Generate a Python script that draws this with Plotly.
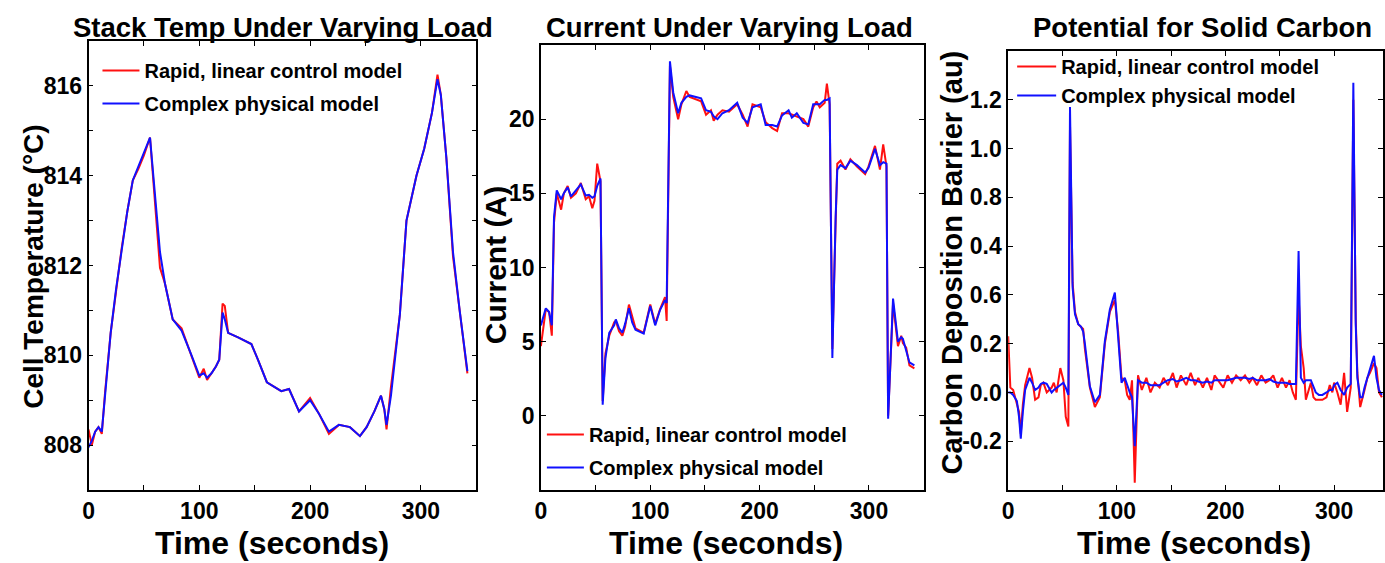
import plotly.graph_objects as go

# ---------- data ----------
# Stack temperature (deg C)
temp_time = [0, 3, 6, 9, 12, 15, 20, 25, 30, 35, 40, 45, 50, 55.5, 64.5, 69, 76, 84, 93, 100,
             104, 107, 111, 115, 118, 121, 123, 126, 135, 147, 153, 161, 174, 181, 190, 200,
             208, 217, 226, 236, 245, 251, 258, 264, 267, 269, 273, 281, 287, 296, 303, 310,
             315, 318, 323, 329, 335, 342]
temp_complex = [807.95, 808.1, 808.3, 808.4, 808.3, 809.2, 810.5, 811.5, 812.4, 813.2, 813.9,
                814.2, 814.5, 814.85, 812.3, 811.6, 810.8, 810.55, 810.0, 809.55, 809.6, 809.5,
                809.6, 809.75, 809.9, 810.95, 810.8, 810.5, 810.4, 810.25, 809.9, 809.4, 809.2,
                809.25, 808.75, 809.0, 808.7, 808.3, 808.45, 808.4, 808.2, 808.4, 808.75, 809.1,
                808.8, 808.45, 809.1, 810.9, 813.0, 814.0, 814.6, 815.4, 816.15, 815.8, 814.4,
                812.3, 811.0, 809.65]
temp_linear = [808.35, 808.0, 808.3, 808.4, 808.25, 809.2, 810.5, 811.5, 812.4, 813.2, 813.9,
               814.15, 814.45, 814.85, 811.95, 811.6, 810.8, 810.6, 810.0, 809.5, 809.7, 809.45,
               809.6, 809.75, 809.9, 811.15, 811.1, 810.5, 810.4, 810.25, 809.9, 809.4, 809.2,
               809.25, 808.75, 809.05, 808.7, 808.25, 808.45, 808.4, 808.2, 808.4, 808.75,
               809.1, 808.8, 808.35, 809.3, 810.9, 813.0, 814.0, 814.6, 815.4, 816.25, 815.8,
               814.4, 812.2, 811.0, 809.6]

# Current (A)
cur_time = [0, 2, 4.5, 7.5, 10, 12, 14.5, 18.5, 21, 24.5, 27.5, 32, 36.5, 41, 44, 47, 49, 51.5,
            54.5, 56.5, 59, 62.5, 67, 68.5, 71.5, 74.5, 77, 80.5, 83.5, 86.5, 94, 100, 104.5,
            109, 113.5, 115, 118, 121, 125.5, 128.5, 133, 136, 146.5, 151, 155.5, 158, 161.5,
            166, 172, 179.5, 184.5, 189, 193.5, 201, 205.5, 211.5, 216, 220.5, 226.5, 229.5,
            234, 240, 244.5, 249, 252, 255, 259.5, 261.5, 264, 266.5, 269.5, 271, 274, 278.5,
            283, 289, 296.5, 299.5, 305.5, 310, 313, 316, 317.5, 322, 326.5, 329.5, 331, 334,
            337, 341.5]
cur_complex = [6.1, 6.6, 7.25, 7.0, 6.1, 13.4, 15.2, 14.6, 15.0, 15.4, 14.8, 15.2, 15.6, 14.85,
               14.9, 14.7, 14.8, 15.5, 16.0, 0.75, 3.9, 5.6, 6.1, 6.5, 5.9, 5.6, 6.2, 7.25, 6.3,
               5.8, 5.55, 7.4, 6.1, 7.15, 7.8, 7.6, 23.9, 21.8, 20.4, 21.1, 21.5, 21.6, 21.4,
               20.6, 20.5, 20.2, 20.0, 20.4, 20.6, 21.1, 20.1, 19.75, 20.8, 21.0, 19.6, 19.6,
               19.5, 20.25, 20.6, 20.1, 20.4, 19.75, 19.65, 21.0, 21.0, 21.0, 21.3, 21.3, 21.4,
               3.9, 13.4, 16.6, 16.9, 16.7, 17.2, 16.9, 16.4, 16.7, 18.0, 16.9, 17.1, 17.0, -0.2,
               7.9, 5.0, 5.3, 5.2, 4.4, 3.6, 3.4]
cur_linear = [4.7, 6.0, 7.2, 7.0, 5.4, 13.0, 15.0, 13.9, 15.0, 15.5, 14.7, 15.0, 15.7, 14.6,
              14.8, 14.0, 14.5, 17.0, 15.8, 1.0, 4.2, 5.4, 6.3, 6.4, 5.7, 5.4, 6.0, 7.5, 6.6,
              5.9, 5.6, 7.5, 6.2, 7.2, 8.0, 6.4, 23.6, 21.5, 20.0, 21.0, 21.9, 21.5, 21.2, 20.3,
              20.6, 19.9, 20.3, 20.6, 20.5, 21.0, 20.3, 19.5, 21.0, 20.8, 19.8, 19.4, 19.2,
              20.4, 20.4, 20.3, 20.2, 20.0, 19.5, 20.8, 21.2, 20.8, 21.1, 22.4, 21.0, 4.5, 13.0,
              17.0, 17.2, 16.6, 17.3, 16.8, 16.3, 16.8, 18.2, 16.6, 18.3, 16.8, 0.0, 7.6, 4.7,
              5.4, 4.9, 4.6, 3.4, 3.2]

# Carbon deposition barrier (au), plotted on a linear position scale
carb_time = [0, 2, 4.6, 8, 10, 11.6, 13.5, 15.6, 19.6, 22, 24.8, 27.9, 30, 32.4, 35.5, 40, 42,
             44.6, 48, 50.8, 53, 55.4, 56.9, 59.3, 61.5, 64.5, 67, 69, 70.6, 75.2, 79.8, 84.4,
             89, 93.6, 98.2, 101.2, 104.3, 107.3, 109.5, 111.9, 114, 116.5, 119.5, 123, 127.2,
             131, 135, 139.4, 143, 147, 151.6, 155, 159, 163.9, 168, 172, 175, 179.2, 183, 187,
             190, 194.5, 198, 202, 206, 209.8, 214, 218, 222, 225.1, 229, 233, 237, 240.4, 244,
             248, 252, 255.7, 259, 262, 264.8, 267.3, 269.4, 272, 274, 278.6, 281, 283.1, 286,
             289.2, 293, 296, 298.4, 300, 303, 306, 309.2, 312, 315.3, 317.7, 319.9, 321.4, 324,
             326, 328, 330.6, 333, 336.7, 339, 341.3, 344]
carb_complex = [0.0, 0.0, -0.01, -0.035, -0.1, -0.19, -0.08, 0.01, 0.06, 0.04, 0.01, 0.02,
                0.035, 0.04, 0.035, 0.0, 0.01, 0.02, 0.03, 0.04, 0.02, -0.01, 1.17, 0.43, 0.32,
                0.28, 0.27, 0.25, 0.2, 0.025, -0.04, -0.01, 0.21, 0.34, 0.41, 0.21, 0.04, 0.06,
                0.03, 0.0, -0.02, -0.22, 0.05, 0.04, 0.04, 0.03, 0.03, 0.03, 0.04, 0.05, 0.055,
                0.045, 0.05, 0.06, 0.05, 0.05, 0.045, 0.04, 0.045, 0.04, 0.05, 0.05, 0.05, 0.05,
                0.055, 0.06, 0.06, 0.06, 0.055, 0.06, 0.05, 0.05, 0.05, 0.055, 0.045, 0.04, 0.04,
                0.04, 0.035, 0.035, 0.035, 0.58, 0.06, 0.04, 0.05, 0.05, 0.02, 0.0, -0.01, -0.01,
                0.0, 0.01, 0.01, 0.03, 0.04, 0.01, -0.01, 0.02, 0.035, 1.27, 0.28, 0.06, -0.02,
                -0.02, 0.02, 0.06, 0.1, 0.15, 0.06, 0.01, -0.01]
carb_linear = [0.23, 0.02, 0.01, -0.05, -0.08, -0.17, -0.05, 0.03, 0.1, 0.06, -0.03, -0.02,
               0.03, 0.04, 0.0, 0.02, 0.04, 0.0, 0.1, 0.05, -0.1, -0.14, 1.1, 0.45, 0.33, 0.28,
               0.27, 0.26, 0.18, 0.02, -0.06, -0.02, 0.2, 0.33, 0.38, 0.25, 0.06, 0.05, -0.01,
               -0.03, 0.05, -0.37, 0.07, 0.01, 0.06, 0.0, 0.04, 0.02, 0.06, 0.03, 0.08, 0.02,
               0.07, 0.03, 0.08, 0.03, 0.06, 0.02, 0.06, 0.01, 0.07, 0.04, 0.02, 0.07, 0.04, 0.07,
               0.05, 0.07, 0.04, 0.06, 0.03, 0.07, 0.04, 0.05, 0.07, 0.02, 0.06, 0.02, 0.05, 0.0,
               -0.03, 0.4, 0.19, 0.1, -0.03, 0.04, -0.02, -0.03, -0.03, -0.03, -0.02, 0.03, 0.0,
               0.04, 0.0, -0.05, 0.08, -0.08, 0.02, 1.2, 0.3, 0.08, -0.06, -0.03, 0.01, 0.06,
               0.08, 0.12, 0.1, 0.0, -0.02]

# tick labels
temp_ticks = [807, 808, 809, 810, 811, 812, 813, 814, 815, 816, 817]
temp_ticktext = ["", "808", "", "810", "", "812", "", "814", "", "816", ""]
cur_ticks = [0, 5, 10, 15, 20]
carb_ticks = [-0.2, 0.0, 0.2, 0.4, 0.6, 0.8, 1.0, 1.2]
carb_ticktext = ["-0.2", "0.0", "0.2", "0.6", "0.4", "0.8", "1.0", "1.2"]
time_ticks = [0, 50, 100, 150, 200, 250, 300]
time_ticktext = ["0", "", "100", "", "200", "", "300"]

names = ["Rapid, linear control model", "Complex physical model"]
colors = ["#ff1010", "#1010ff"]

W, H = 1385, 563
FONT = "Liberation Sans, Arial, sans-serif"

fig = go.Figure()

panels = [
    (temp_time, temp_linear, temp_complex, "x", "y", "legend"),
    (cur_time, cur_linear, cur_complex, "x2", "y2", "legend2"),
    (carb_time, carb_linear, carb_complex, "x3", "y3", "legend3"),
]
for t, lin, cpx, xa, ya, lg in panels:
    for i, vals in enumerate([lin, cpx]):
        fig.add_trace(go.Scatter(x=t, y=vals, mode="lines", name=names[i],
                                 line=dict(color=colors[i], width=2),
                                 xaxis=xa, yaxis=ya, legend=lg,
                                 legendgroup=lg + str(i)))

# plot boxes in pixels: left, right, top, bottom
boxes = [(83, 473, 41, 490), (538, 923, 45, 490), (1008, 1385, 51, 490)]
xranges = [[0, 350], [0, 350], [0, 345]]
yranges = [[807, 817], [-5, 25], [-0.4, 1.4]]

tickfont = dict(family=FONT, size=23, color="black", weight="bold")
axis_common = dict(showline=True, linecolor="black", linewidth=1.5, mirror="ticks",
                   ticks="inside", ticklen=5, tickcolor="black", tickwidth=1,
                   showgrid=False, zeroline=False, tickfont=tickfont)

layout = dict(width=W, height=H, margin=dict(l=0, r=0, t=0, b=0),
              plot_bgcolor="white", paper_bgcolor="white", showlegend=True)

for k, ((l, r, tp, b), xr, yr) in enumerate(zip(boxes, xranges, yranges)):
    sx = "" if k == 0 else str(k + 1)
    layout["xaxis" + sx] = dict(domain=[l / W, min(r / W, 1.0)], range=xr,
                                anchor="y" + sx, tickvals=time_ticks,
                                ticktext=time_ticktext, **axis_common)
    layout["yaxis" + sx] = dict(domain=[1 - b / H, 1 - tp / H], range=yr,
                                anchor="x" + sx, **axis_common)

layout["yaxis"].update(tickvals=temp_ticks, ticktext=temp_ticktext)
layout["yaxis2"].update(tickvals=cur_ticks)
layout["yaxis3"].update(tickvals=carb_ticks, ticktext=carb_ticktext)

legfont = dict(family=FONT, size=20, color="black", weight="bold")
leg_common = dict(font=legfont, bgcolor="rgba(0,0,0,0)", borderwidth=0,
                  xanchor="left", yanchor="top", traceorder="grouped")
layout["legend"] = dict(x=92 / W, y=1 - 51 / H, tracegroupgap=4, itemwidth=37, **leg_common)
layout["legend2"] = dict(x=539 / W, y=1 - 415 / H, tracegroupgap=4, itemwidth=37, **leg_common)
layout["legend3"] = dict(x=1012 / W, y=1 - 47 / H, tracegroupgap=0, itemwidth=39, **leg_common)

fig.update_layout(**layout)

# titles and axis labels
titles = [("Stack Temp Under Varying Load", 279), ("Current Under Varying Load", 728),
          ("Potential for Solid Carbon", 1203)]
for txt, cx in titles:
    fig.add_annotation(text=txt, x=cx / W, y=1 - 27 / H, xref="paper", yref="paper",
                       showarrow=False, xanchor="center", yanchor="middle",
                       font=dict(family=FONT, size=27.5, color="black", weight="bold"))

for cx in [268, 724, 1195]:
    fig.add_annotation(text="Time (seconds)", x=cx / W, y=0, xref="paper",
                       yref="paper", showarrow=False, xanchor="center", yanchor="bottom",
                       font=dict(family=FONT, size=32, color="black", weight="bold"))

ytitles = [("Cell Temperature (°C)", 27, 266, 28), ("Current (A)", 493, 265, 30),
           ("Carbon Deposition Barrier (au)", 951, 263, 29)]
for txt, cx, cy, fs in ytitles:
    fig.add_annotation(text=txt, x=cx / W, y=1 - cy / H, xref="paper", yref="paper",
                       showarrow=False, xanchor="center", yanchor="middle", textangle=-90,
                       font=dict(family=FONT, size=fs, color="black", weight="bold"))

# the page body has a default 8px margin; remove it so the figure fills the window
fig.write_html("out.html", config={"displayModeBar": False},
               post_script="document.body.style.margin='0px';")
